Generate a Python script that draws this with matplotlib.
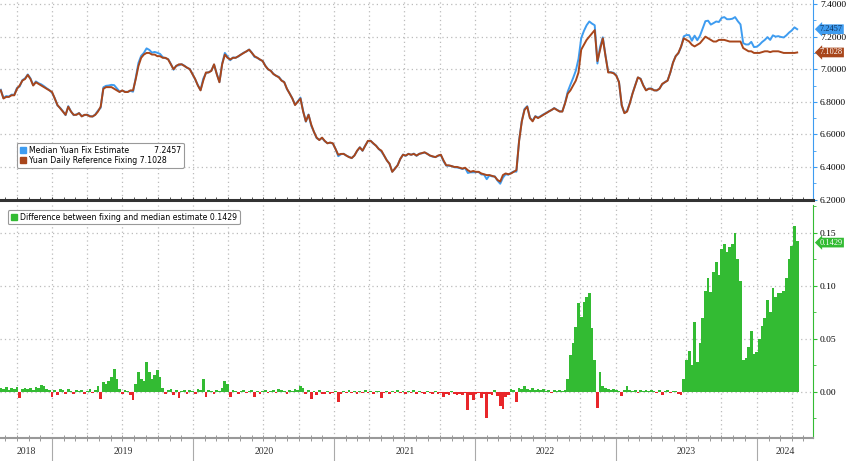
import numpy as np
import pandas as pd
import matplotlib
matplotlib.use("Agg")
import matplotlib.pyplot as plt
import matplotlib.dates as mdates
import matplotlib.ticker as mticker
from matplotlib.patches import Patch

# weekly observations, first one 20 Aug 2018
start_date = "2018-08-20"

# Yuan daily reference fixing (USD/CNY)
fixing = [
    6.87, 6.82, 6.83, 6.83, 6.84, 6.84, 6.88, 6.90, 6.93, 6.94,
    6.965, 6.94, 6.90, 6.92, 6.91, 6.90, 6.89, 6.88, 6.87, 6.86,
    6.82, 6.78, 6.76, 6.74, 6.72, 6.77, 6.74, 6.72, 6.72, 6.73,
    6.71, 6.72, 6.72, 6.71, 6.71, 6.72, 6.74, 6.77, 6.88, 6.89,
    6.89, 6.89, 6.88, 6.87, 6.86, 6.87, 6.86, 6.86, 6.87, 6.87,
    6.94, 7.02, 7.07, 7.09, 7.10, 7.10, 7.09, 7.09, 7.08, 7.08,
    7.07, 7.07, 7.06, 7.03, 7.00, 7.02, 7.03, 7.03, 7.02, 7.01,
    7.00, 6.97, 6.94, 6.90, 6.87, 6.93, 6.98, 6.98, 6.99, 7.03,
    6.97, 6.92, 7.03, 7.09, 7.07, 7.06, 7.07, 7.07, 7.08, 7.09,
    7.10, 7.11, 7.12, 7.10, 7.08, 7.07, 7.06, 7.05, 7.02, 7.00,
    6.99, 6.97, 6.96, 6.95, 6.93, 6.92, 6.88, 6.85, 6.82, 6.78,
    6.80, 6.82, 6.74, 6.68, 6.72, 6.66, 6.615, 6.58, 6.565, 6.58,
    6.56, 6.545, 6.55, 6.545, 6.51, 6.475, 6.48, 6.48, 6.47, 6.46,
    6.455, 6.47, 6.50, 6.52, 6.50, 6.53, 6.56, 6.56, 6.545, 6.53,
    6.51, 6.50, 6.47, 6.44, 6.42, 6.37, 6.39, 6.41, 6.45, 6.475,
    6.47, 6.48, 6.475, 6.48, 6.47, 6.48, 6.485, 6.49, 6.48, 6.47,
    6.465, 6.46, 6.47, 6.475, 6.44, 6.41, 6.41, 6.405, 6.40, 6.40,
    6.395, 6.39, 6.395, 6.38, 6.37, 6.375, 6.37, 6.37, 6.36, 6.355,
    6.35, 6.35, 6.345, 6.34, 6.32, 6.31, 6.35, 6.36, 6.355, 6.36,
    6.37, 6.38, 6.56, 6.68, 6.75, 6.77, 6.70, 6.68, 6.71, 6.70,
    6.71, 6.72, 6.73, 6.74, 6.75, 6.76, 6.75, 6.74, 6.74, 6.79,
    6.85, 6.87, 6.90, 6.93, 6.98, 7.12, 7.15, 7.18, 7.20, 7.22,
    7.24, 7.05, 7.12, 7.19, 7.08, 6.98, 6.98, 6.975, 6.96, 6.92,
    6.78, 6.73, 6.74, 6.79, 6.85, 6.90, 6.95, 6.94, 6.90, 6.87,
    6.88, 6.88, 6.87, 6.87, 6.88, 6.91, 6.92, 6.93, 6.98, 7.04,
    7.08, 7.10, 7.14, 7.19, 7.18, 7.17, 7.15, 7.14, 7.15, 7.16,
    7.18, 7.20, 7.19, 7.18, 7.17, 7.17, 7.18, 7.18, 7.18, 7.175,
    7.17, 7.17, 7.17, 7.17, 7.17, 7.13, 7.12, 7.11, 7.11, 7.10,
    7.10, 7.10, 7.105, 7.11, 7.11, 7.105, 7.11, 7.11, 7.11, 7.105,
    7.10, 7.10, 7.10, 7.10, 7.10, 7.1028,
]

# median estimate minus fixing, same weeks
difference = [
    0.004, 0.003, 0.005, 0.002, 0.004, 0.003, 0.005, -0.006, 0.003, 0.004,
    0.003, 0.004, 0.002, 0.005, 0.004, 0.007, 0.006, 0.003, 0.002, -0.005,
    0.002, -0.003, 0.003, 0.002, -0.002, 0.003, 0.001, -0.002, 0.002, 0.001,
    0.002, -0.002, 0.001, 0.003, -0.001, 0.002, 0.006, -0.007, 0.009, 0.008,
    0.010, 0.014, 0.022, 0.012, 0.003, -0.002, 0.002, 0.001, -0.003, -0.008,
    0.008, 0.019, 0.012, 0.010, 0.028, 0.019, 0.012, 0.016, 0.021, 0.014,
    0.004, -0.002, 0.002, 0.003, -0.003, 0.002, -0.006, 0.001, 0.002, -0.002,
    0.002, 0.001, -0.002, 0.003, 0.002, 0.012, -0.005, 0.002, 0.001, -0.002,
    0.002, 0.001, 0.004, 0.010, 0.008, -0.005, 0.002, 0.001, -0.002, 0.001,
    0.002, -0.001, 0.001, 0.002, -0.005, 0.001, -0.002, 0.001, 0.002, -0.001,
    0.001, 0.002, -0.001, 0.003, 0.002, 0.001, -0.002, 0.002, 0.001, 0.003,
    0.002, 0.006, 0.004, -0.002, 0.002, -0.007, 0.001, -0.003, 0.002, -0.002,
    -0.002, 0.001, -0.002, -0.001, 0.001, -0.009, -0.002, 0.001, -0.001, 0.002,
    -0.001, 0.001, -0.002, 0.001, -0.001, 0.002, -0.001, 0.001, -0.002, 0.001,
    0.001, -0.006, -0.001, 0.001, -0.002, 0.001, -0.001, 0.002, -0.001, 0.001,
    -0.002, 0.001, -0.001, 0.002, -0.002, 0.001, -0.001, -0.002, 0.001, -0.001,
    -0.002, 0.001, -0.002, -0.001, -0.005, -0.002, -0.003, 0.001, -0.002, -0.003,
    -0.002, -0.003, -0.001, -0.017, -0.003, -0.008, -0.002, -0.001, -0.006, -0.002,
    -0.025, -0.002, -0.003, 0.002, -0.004, -0.013, -0.016, -0.005, -0.003, 0.003,
    0.002, -0.009, 0.004, 0.003, 0.006, 0.003, 0.002, 0.004, 0.002, 0.003,
    0.002, 0.003, 0.001, 0.002, -0.001, 0.002, 0.001, 0.002, 0.001, 0.002,
    0.012, 0.035, 0.046, 0.061, 0.084, 0.071, 0.085, 0.090, 0.093, 0.060,
    0.030, -0.015, 0.019, 0.006, 0.004, 0.003, 0.002, 0.003, 0.002, 0.001,
    -0.004, 0.002, 0.006, 0.002, 0.001, 0.002, -0.001, 0.002, 0.001, 0.002,
    0.001, 0.002, 0.001, -0.001, 0.002, -0.003, 0.001, 0.002, -0.001, 0.001,
    0.001, -0.002, -0.003, 0.012, 0.030, 0.039, 0.025, 0.066, 0.028, 0.046,
    0.070, 0.095, 0.108, 0.094, 0.113, 0.123, 0.110, 0.135, 0.140, 0.132,
    0.137, 0.140, 0.150, 0.125, 0.105, 0.030, 0.032, 0.042, 0.058, 0.036,
    0.038, 0.050, 0.062, 0.070, 0.087, 0.075, 0.098, 0.090, 0.093, 0.093,
    0.095, 0.108, 0.125, 0.138, 0.157, 0.1429,
]

series_names = ["Median Yuan Fix Estimate", "Yuan Daily Reference Fixing"]
diff_name = "Difference between fixing and median estimate"
year_labels = ["2018", "2019", "2020", "2021", "2022", "2023", "2024"]

BLUE = "#3e9cf0"
BROWN = "#a8461b"
GREEN = "#33bb33"
RED = "#e8262a"

n = min(len(fixing), len(difference))
dates = pd.date_range(start_date, periods=n, freq="7D")
fix = np.array(fixing[:n])
diff = np.array(difference[:n])
estimate = fix + diff

x_start = pd.Timestamp("2018-08-18")
x_end = pd.Timestamp("2024-05-26")

fig = plt.figure(figsize=(8.48, 4.61), dpi=100)
ax1 = fig.add_axes([0, 1 - 200 / 461, 813 / 848, 200 / 461])
ax2 = fig.add_axes([0, 1 - 438 / 461, 813 / 848, 233 / 461], sharex=ax1)

serif = "Liberation Serif"

# ---- top panel
ax1.plot(dates, estimate, color=BLUE, lw=1.4, zorder=3)
ax1.plot(dates, fix, color=BROWN, lw=1.4, zorder=4)
ax1.set_ylim(6.197, 7.425)
ax1.yaxis.tick_right()
ax1.yaxis.set_major_locator(mticker.MultipleLocator(0.2))
ax1.yaxis.set_minor_locator(mticker.MultipleLocator(0.1))
ax1.yaxis.set_major_formatter(mticker.FormatStrFormatter("%.4f"))
ax1.tick_params(axis="y", which="major", length=3, color=BLUE, pad=2, labelsize=6.8)
ax1.tick_params(axis="y", which="minor", length=2, color=BLUE)
for lab in ax1.get_yticklabels():
    lab.set_fontfamily(serif)
ax1.spines["right"].set_color(BLUE)
ax1.spines["left"].set_visible(False)
ax1.spines["top"].set_visible(False)
ax1.spines["bottom"].set_color("#333333")
ax1.spines["bottom"].set_linewidth(2.2)
ax1.tick_params(axis="x", which="both", labelbottom=False, length=2, color="#333333", direction="in")

# ---- bottom panel
bar_colors = np.where(diff >= 0, GREEN, RED)
ax2.bar(dates, diff, width=7, color=bar_colors, linewidth=0, zorder=3)
ax2.set_ylim(-0.0434, 0.1764)
ax2.yaxis.tick_right()
ax2.yaxis.set_major_locator(mticker.MultipleLocator(0.05))
ax2.yaxis.set_minor_locator(mticker.MultipleLocator(0.025))
ax2.yaxis.set_major_formatter(mticker.FormatStrFormatter("%.2f"))
ax2.tick_params(axis="y", which="major", length=3, color=GREEN, pad=2, labelsize=6.8)
ax2.tick_params(axis="y", which="minor", length=2, color=GREEN)
for lab in ax2.get_yticklabels():
    lab.set_fontfamily(serif)
ax2.spines["right"].set_color(GREEN)
ax2.spines["left"].set_visible(False)
ax2.spines["top"].set_visible(False)
ax2.spines["bottom"].set_color("#999999")
ax2.spines["bottom"].set_linewidth(1.5)

# x axis: year separators as long ticks, months as small ticks
ax2.set_xlim(x_start, x_end)
ax2.xaxis.set_major_locator(mdates.YearLocator())
ax2.xaxis.set_minor_locator(mdates.MonthLocator())
ax2.xaxis.set_major_formatter(mticker.NullFormatter())
ax2.tick_params(axis="x", which="major", length=20, width=0.8, color="#aaaaaa", direction="out")
ax2.tick_params(axis="x", which="minor", length=4, width=0.6, color="#888888", direction="inout")

year_starts = [pd.Timestamp(f"{y}-01-01") for y in year_labels]
for i, lab in enumerate(year_labels):
    left = max(year_starts[i], x_start)
    right = min(year_starts[i] + pd.DateOffset(years=1), x_end)
    mid = left + (right - left) / 2
    ax2.text(mid, -0.04, lab, transform=ax2.get_xaxis_transform(), ha="center", va="top",
             fontsize=7, family=serif, color="#333333")

# dotted grid
quarters = pd.date_range("2018-10-01", x_end, freq="QS")
for ax in (ax1, ax2):
    ax.vlines(quarters, 0, 1, transform=ax.get_xaxis_transform(), colors="#bbbbbb",
              linestyles=(0, (1, 2.5)), lw=0.9, zorder=1)
    ax.grid(axis="y", color="#bbbbbb", linestyle=(0, (1, 2.5)), lw=0.9, zorder=1)
    ax.set_axisbelow(True)

# value tags on the right axis
def tag(ax, value, text, face, fg, dy=0):
    ax.annotate(text, xy=(1, value), xycoords=("axes fraction", "data"),
                xytext=(5, dy), textcoords="offset points", ha="left", va="center",
                fontsize=6, family=serif, color=fg,
                bbox=dict(boxstyle="larrow,pad=0.1", fc=face, ec="none"),
                annotation_clip=False, zorder=10)

tag(ax1, estimate[-1], f"{estimate[-1]:.4f}", BLUE, "#10305a")
tag(ax1, fix[-1], f"{fix[-1]:.4f}", BROWN, "white")
tag(ax2, diff[-1], f"{diff[-1]:.4f}", GREEN, "white", dy=-1.5)

# legends
h1 = [Patch(color=BLUE), Patch(color=BROWN)]
l1 = [f"{series_names[0]}          {estimate[-1]:.4f}", f"{series_names[1]} {fix[-1]:.4f}"]
leg1 = ax1.legend(h1, l1, loc="upper left", bbox_to_anchor=(13 / 813, 0.305), fontsize=5.6,
                  handlelength=0.8, handleheight=0.8, handletextpad=0.4, labelspacing=0.15,
                  borderpad=0.35, frameon=True, fancybox=True, edgecolor="#999999",
                  framealpha=1)
leg1.get_frame().set_linewidth(0.8)

leg2 = ax2.legend([Patch(color=GREEN)], [f"{diff_name} {diff[-1]:.4f}"], loc="upper left",
                  bbox_to_anchor=(4 / 813, 0.995), fontsize=5.6, handlelength=0.8,
                  handleheight=0.8, handletextpad=0.4, borderpad=0.35, frameon=True,
                  fancybox=True, edgecolor="#999999", framealpha=1)
leg2.get_frame().set_linewidth(0.8)

fig.savefig("out.png", dpi=100)
